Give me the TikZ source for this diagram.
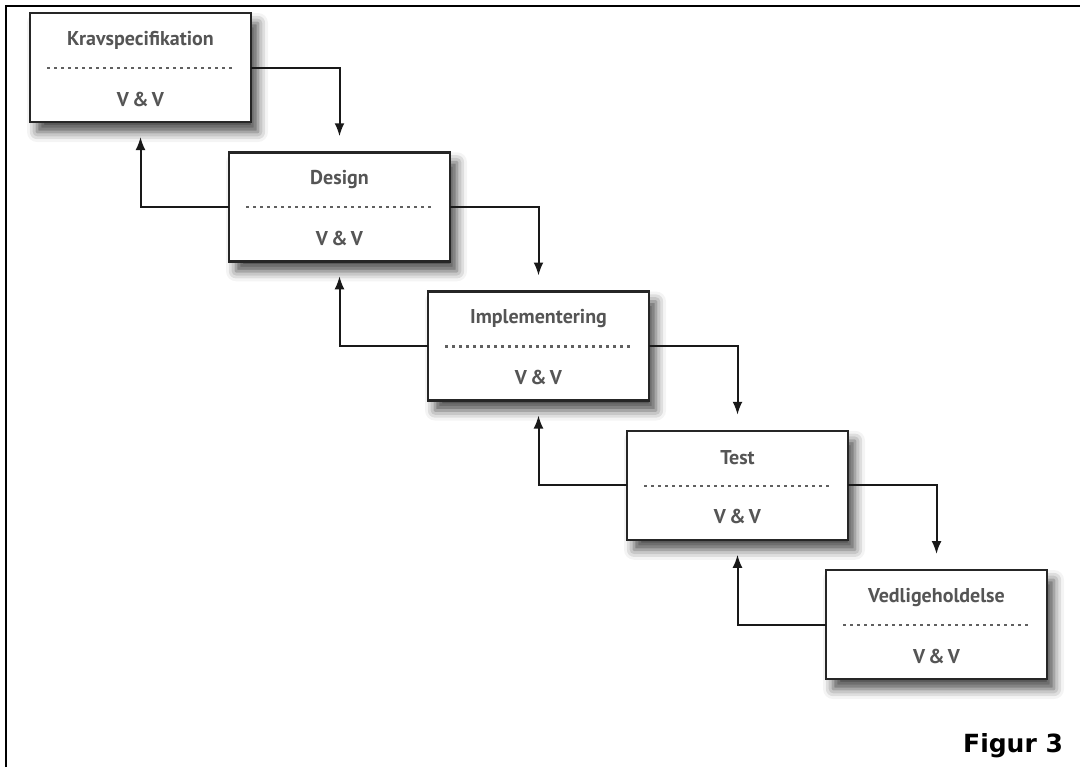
\documentclass[tikz,border=0pt]{standalone}
\usepackage{fontspec}
\setmainfont{PT Sans}
\newfontfamily\figfont{DejaVu Sans}
\usepackage{tikz}
\usetikzlibrary{arrows.meta}
\usetikzlibrary{calc}
\usetikzlibrary{shadows.blur}

\definecolor{labelgray}{HTML}{555555}
\definecolor{dotgray}{HTML}{606060}

\begin{document}
\begin{tikzpicture}[x=0.5pt, y=-0.5pt]
		\tikzset{stage/.style={shape = rectangle, draw = black!85, line width = 1.25pt, fill = white,
				anchor = north west, minimum width = 110.5pt, minimum height = 54.5pt,
				inner sep = 0pt, outer sep = 0pt,
				blur shadow = {shadow xshift = 3.5pt, shadow yshift = -5pt,
					shadow blur radius = 5pt, shadow opacity = 70}}}
		\tikzset{stagetext/.style={font = \bfseries\fontsize{10}{12}\selectfont, text = labelgray}}
		\tikzset{sep/.style={dotgray, line width = 1.2pt, dash pattern = on 1.4pt off 2.1pt}}
		\tikzset{edge/.style={->, > = {Latex[length = 6.5pt, width = 5pt]}, line width = 1pt, black!90}}
		\useasboundingbox (0, 0) rectangle (1080, 767);
		%frame
		\draw[line width = 1.3pt] (6, 767) -- (6, 6) -- (1080, 6);
		%stages
		\foreach \i/\name in {1/Kravspecifikation, 2/Design, 3/Implementering, 4/Test, 5/Vedligeholdelse} {
			\node[stage] (s\i) at ({30 + 199*(\i-1)}, {13 + 139.25*(\i-1)}) {};
			\node[stagetext] (t\i) at ($(s\i.north) + (0, 27)$) {\name};
			\draw[sep] ($(s\i.north west) + (17, 55)$) -- ($(s\i.north east) + (-17, 55)$);
			\node[stagetext] (v\i) at ($(s\i.north) + (0, 86)$) {V\,\&\,V};
		}
		%edges
		\foreach \i/\j in {1/2, 2/3, 3/4, 4/5} {
			\coordinate (in\j) at ($(s\j.north) + (0, -16)$);
			\coordinate (back\i) at ($(s\i.south) + (0, 15)$);
			\draw[edge] (s\i.east) -| (in\j);
			\draw[edge] (s\j.west) -| (back\i);
		}
		%caption
		\node[anchor = base east, font = \figfont\bfseries\fontsize{12.5}{14}\selectfont] (fig) at (1070, 752) {Figur 3};
		\end{tikzpicture}
\end{document}
